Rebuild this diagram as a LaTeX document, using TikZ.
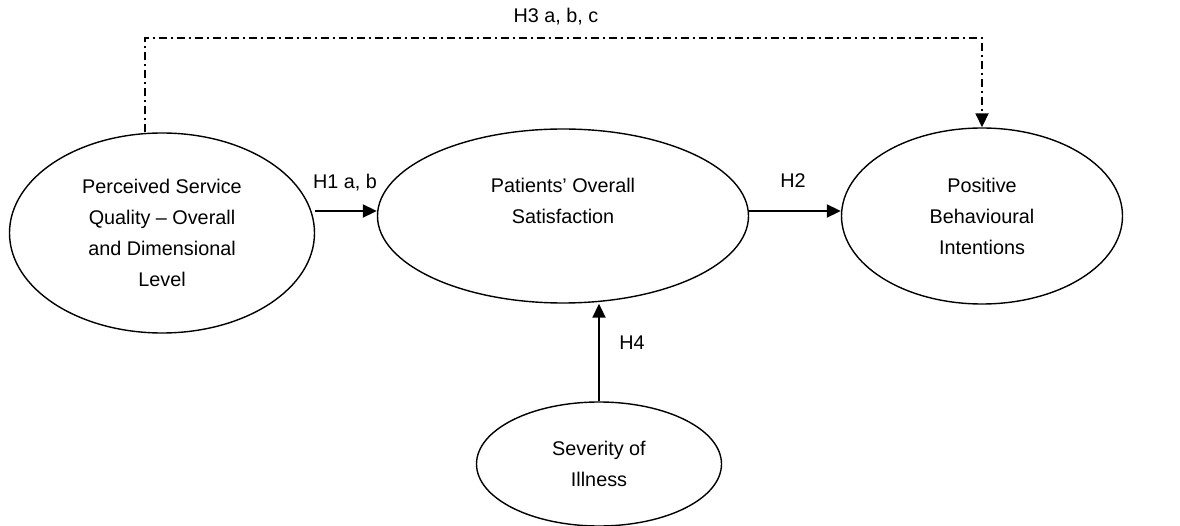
\documentclass[tikz,border=0pt]{standalone}
\usepackage{fontspec}
\setmainfont{Liberation Sans}
\usetikzlibrary{shapes.geometric,arrows.meta}

\begin{document}
\begin{tikzpicture}[x=1pt,y=1pt]

      \useasboundingbox (0,0) rectangle (1180,-526);

      \begin{scope}[every node/.style={ellipse,draw,line width=1.4pt,inner sep=0pt,
          align=center,font=\fontsize{19.8}{31}\selectfont}]
        \node[minimum width=305,minimum height=200] (psq) at (162,-233)
          {Perceived Service\\Quality -- Overall\\and Dimensional\\Level};
        \node[minimum width=371,minimum height=174] (pos) at (563,-216)
          {Patients’ Overall\\Satisfaction\\\mbox{}};
        \node[minimum width=281,minimum height=176] (pbi) at (982,-216)
          {Positive\\Behavioural\\Intentions};
        \node[minimum width=245,minimum height=124] (soi) at (599,-464)
          {Severity of\\Illness};
      \end{scope}

      \coordinate (h3top) at (145,-38);

      \begin{scope}[every node/.style={font=\fontsize{19.8}{31}\selectfont},
          >={Triangle[length=14pt,width=13pt]}]
        \draw[line width=2pt,->] (psq.east |- 0,-211) -- (pos.west |- 0,-211);
        \draw[line width=2pt,->] (pos.east |- 0,-211) -- (pbi.west |- 0,-211);
        \draw[line width=2pt,->] (soi.north) -- (soi.north |- pos.south);
        \draw[line width=1.8pt,dash pattern=on 8pt off 4pt on 2pt off 4pt,->]
          (psq.north -| h3top) -- (h3top) -| (pbi.north);

        \node (h1) at (345,-183) {H1 a, b};
        \node (h2) at (793,-181) {H2};
        \node (h3) at (556,-17) {H3 a, b, c};
        \node (h4) at (632,-343) {H4};
      \end{scope}

    \end{tikzpicture}
\end{document}
